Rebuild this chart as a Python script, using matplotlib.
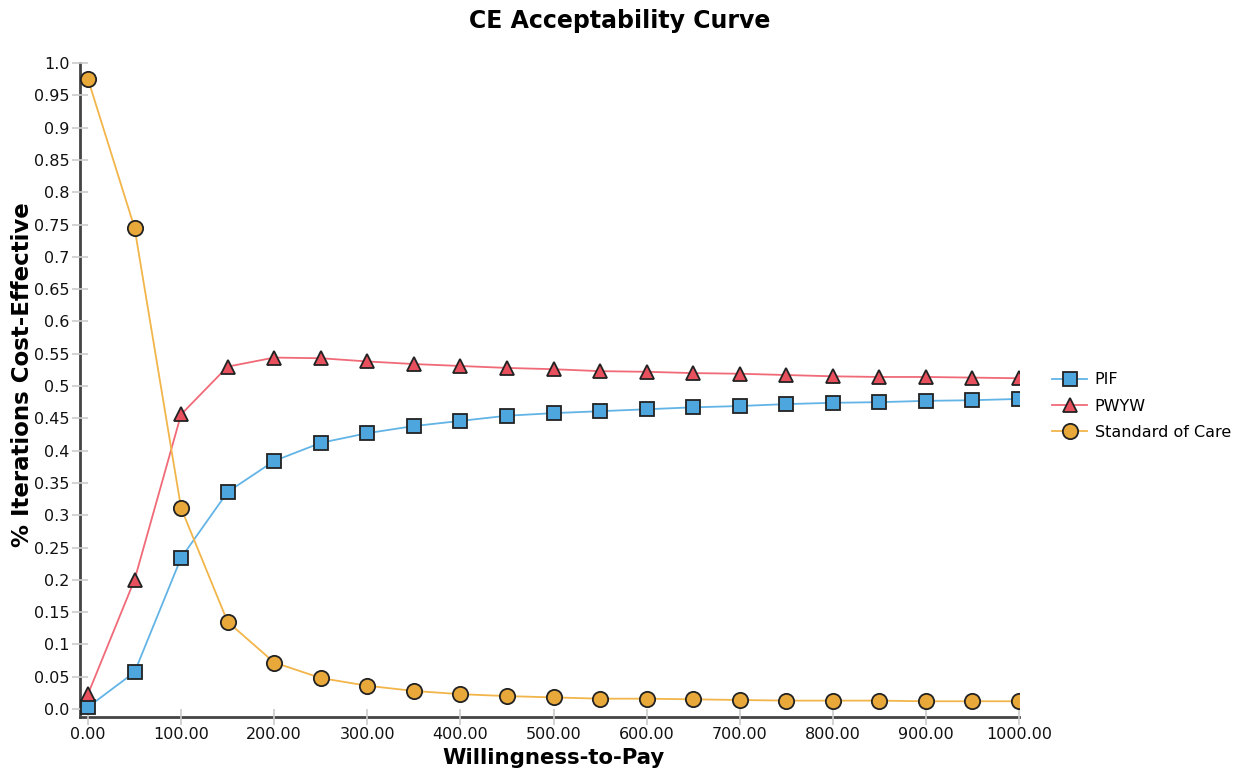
"""CE acceptability curve: share of iterations cost-effective vs willingness-to-pay."""

import matplotlib

matplotlib.use("Agg")
import matplotlib.pyplot as plt

wtp = [0, 50, 100, 150, 200, 250, 300, 350, 400, 450, 500,
       550, 600, 650, 700, 750, 800, 850, 900, 950, 1000]

pif = [0.003, 0.057, 0.234, 0.336, 0.384, 0.412, 0.427, 0.438, 0.446, 0.454, 0.458,
       0.461, 0.464, 0.467, 0.469, 0.472, 0.474, 0.475, 0.477, 0.478, 0.480]
pwyw = [0.023, 0.200, 0.456, 0.530, 0.544, 0.543, 0.538, 0.534, 0.531, 0.528, 0.526,
        0.523, 0.522, 0.520, 0.519, 0.517, 0.515, 0.514, 0.514, 0.513, 0.512]
soc = [0.975, 0.745, 0.311, 0.135, 0.072, 0.048, 0.036, 0.028, 0.023, 0.020, 0.018,
       0.016, 0.016, 0.015, 0.014, 0.013, 0.013, 0.013, 0.012, 0.012, 0.012]

xticks = [0, 100, 200, 300, 400, 500, 600, 700, 800, 900, 1000]
xtick_labels = ["0.00", "100.00", "200.00", "300.00", "400.00", "500.00",
                "600.00", "700.00", "800.00", "900.00", "1000.00"]
yticks = [i * 0.05 for i in range(21)]
ytick_labels = ["0.0", "0.05", "0.1", "0.15", "0.2", "0.25", "0.3", "0.35", "0.4",
                "0.45", "0.5", "0.55", "0.6", "0.65", "0.7", "0.75", "0.8", "0.85",
                "0.9", "0.95", "1.0"]

plt.rcParams["font.family"] = ["DejaVu Sans"]

fig = plt.figure(figsize=(12.4, 7.72), dpi=100)
ax = fig.add_axes([0.0645, 0.0712, 0.7573, 0.8472])

series = [
    ("PIF", pif, "s", "#4da6de", "#62b4e6", 9.7),
    ("PWYW", pwyw, "^", "#e8505e", "#f06a78", 10.5),
    ("Standard of Care", soc, "o", "#e9a93a", "#f2b54a", 11),
]
for name, vals, mk, fill, line, ms in series:
    ax.plot(wtp, vals, color=line, linewidth=1.3, marker=mk, markersize=ms,
            markerfacecolor=fill, markeredgecolor="#222222", markeredgewidth=1.3,
            label=name)

ax.set_xlim(-8.6, 1000)
ax.set_ylim(-0.0124, 1.0)
ax.set_xticks(xticks)
ax.set_xticklabels(xtick_labels)
ax.set_yticks(yticks)
ax.set_yticklabels(ytick_labels)
ax.tick_params(axis="both", direction="inout", length=12, width=1.2,
               color="#cccccc", labelsize=11.5, labelcolor="#111111")
ax.tick_params(axis="x", pad=1)
ax.tick_params(axis="y", pad=1.5)

for side in ("top", "right"):
    ax.spines[side].set_visible(False)
for side in ("left", "bottom"):
    ax.spines[side].set_color("#444444")
    ax.spines[side].set_linewidth(2)
    ax.spines[side].set_zorder(0.5)

fig.text(0.5, 0.973, "CE Acceptability Curve", fontsize=17, fontweight="bold",
         ha="center", va="center")
ax.set_xlabel("Willingness-to-Pay", fontsize=15.3, fontweight="bold")
ax.set_ylabel("% Iterations Cost-Effective", fontsize=16.5, fontweight="bold")
ax.xaxis.set_label_coords(0.504, -0.047)
ax.yaxis.set_label_coords(-0.049, 0.523)

fig.legend(loc="center left", bbox_to_anchor=(0.837, 0.474), frameon=False,
           fontsize=11.5, handlelength=2.2, handletextpad=0.45, labelspacing=0.7)

fig.savefig("out.png", dpi=100)
plt.close(fig)
